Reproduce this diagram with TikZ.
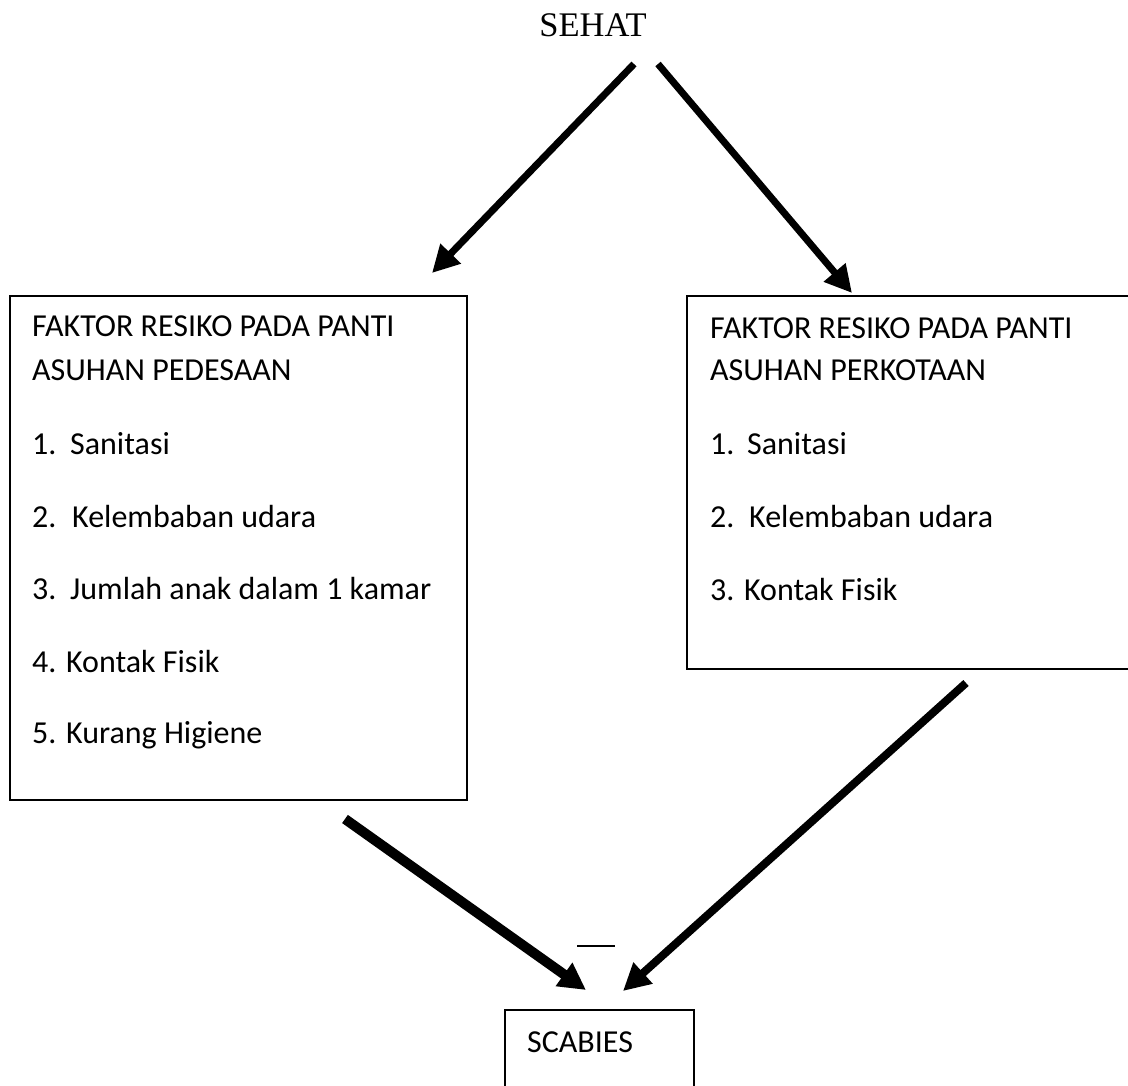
\documentclass[tikz,border=0pt]{standalone}
\usepackage{fontspec}
\setmainfont{Carlito}
\newfontfamily\ttlserif{Liberation Serif}
\usetikzlibrary{arrows.meta}
\begin{document}
\begin{tikzpicture}[x=1pt,y=-1pt,
  box/.style={draw,line width=2.4pt,inner sep=0pt,anchor=north west},
  txt/.style={anchor=base west,inner sep=0pt,font=\fontsize{32}{36}\selectfont},
  arr/.style={line width=#1,-{Triangle[length=27pt,width=27pt]}},
  arr/.default=7pt]
\useasboundingbox (0,0) rectangle (1128,1086);
\fill[white] (0,0) rectangle (1128,1086);
\clip (0,0) rectangle (1128,1086);

% title
\node[anchor=base,inner sep=0pt,font=\ttlserif\fontsize{34.5}{38}\selectfont] (sehat) at (593,37) {SEHAT};

% boxes
\node[box,minimum width=457pt,minimum height=504pt] (boxL) at (9,295) {};
\node[box,minimum width=470pt,minimum height=373pt] (boxR) at (686,295) {};
\node[box,minimum width=189pt,minimum height=110pt] (scab) at (504,1009) {};

% left box text
\node[txt] (l1) at (32,337) {FAKTOR RESIKO PADA PANTI};
\node[txt] (l2) at (32,380) {ASUHAN PEDESAAN};
\node[txt] (l3) at (32,454) {\makebox[38pt][l]{1.}Sanitasi};
\node[txt] (l4) at (32,527) {\makebox[40pt][l]{2.}Kelembaban udara};
\node[txt] (l5) at (32,599) {\makebox[38pt][l]{3.}Jumlah anak dalam 1 kamar};
\node[txt] (l6) at (32,672) {4. Kontak Fisik};
\node[txt] (l7) at (32,743) {5. Kurang Higiene};

% right box text
\node[txt] (r1) at (710,338) {FAKTOR RESIKO PADA PANTI};
\node[txt] (r2) at (710,380) {ASUHAN PERKOTAAN};
\node[txt] (r3) at (710,454) {\makebox[37pt][l]{1.}Sanitasi};
\node[txt] (r4) at (710,527) {\makebox[39pt][l]{2.}Kelembaban udara};
\node[txt] (r5) at (710,600) {3. Kontak Fisik};

% scabies text
\node[txt] (st) at (527,1052) {SCABIES};

% connector end points
\coordinate (aLs) at (634,64);
\coordinate (aLe) at (432,273);
\coordinate (aRs) at (658,64);
\coordinate (aRe) at (852,293);
\coordinate (bLs) at (345,819);
\coordinate (bLe) at (586,990);
\coordinate (bRs) at (966,683);
\coordinate (bRe) at (623,991);

\draw[arr] (aLs) -- (aLe);
\draw[arr] (aRs) -- (aRe);
\draw[arr=10pt] (bLs) -- (bLe);
\draw[arr=8pt] (bRs) -- (bRe);

% small stray mark
\coordinate (m1) at (577,946);
\coordinate (m2) at (615,946);
\draw[line width=1.5pt] (m1) -- (m2);
\end{tikzpicture}
\end{document}
